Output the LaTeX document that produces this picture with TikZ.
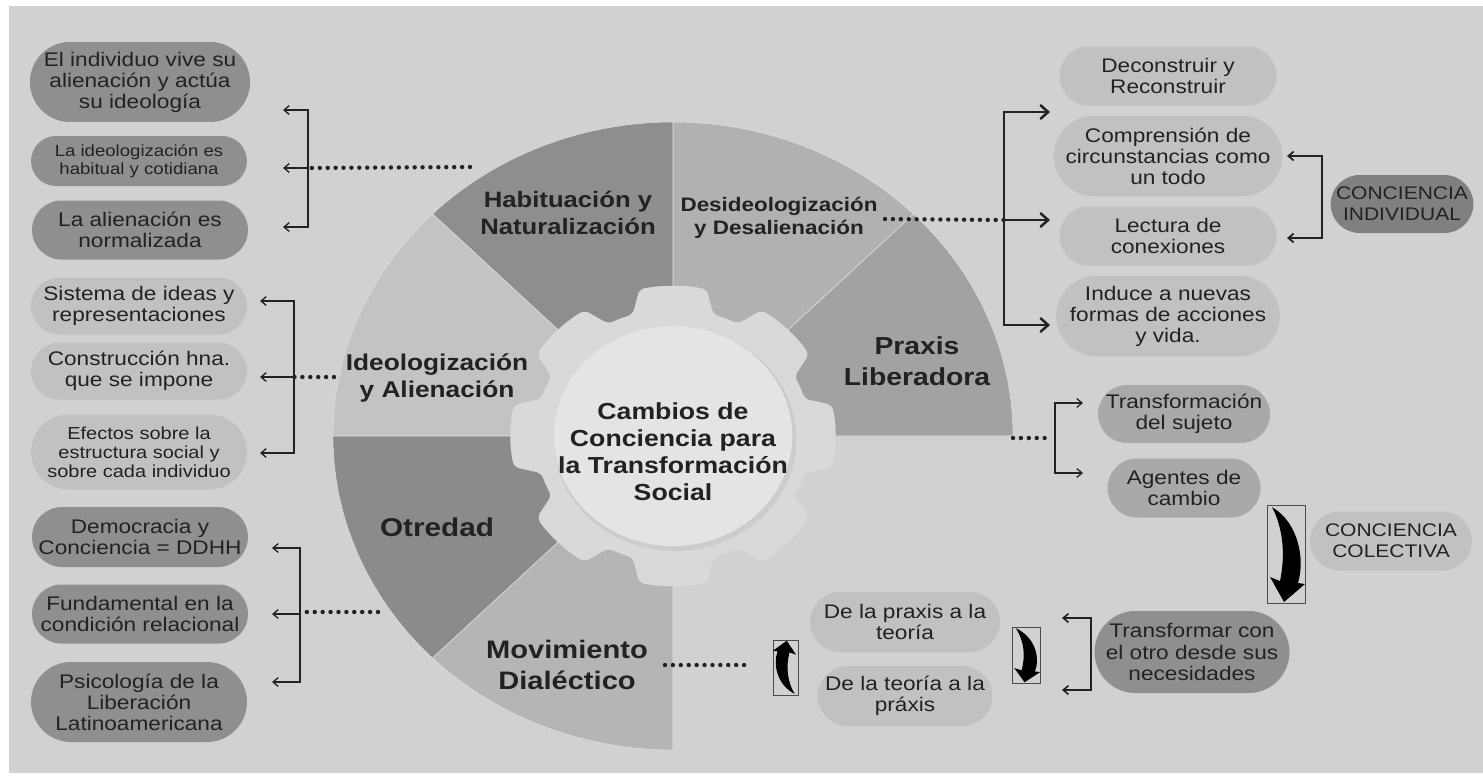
\documentclass[tikz,border=0pt]{standalone}
\usepackage{fontspec}
\setmainfont{Liberation Sans}[FakeStretch=1.15]
\usetikzlibrary{shapes.misc,arrows.meta}

\definecolor{panel}{HTML}{D1D1D1}
\definecolor{ink}{HTML}{222222}
\definecolor{boxdark}{HTML}{8F8F8F}
\definecolor{boxdeep}{HTML}{808080}
\definecolor{boxmid}{HTML}{A9A9A9}
\definecolor{boxlight}{HTML}{C1C1C1}
\definecolor{segHab}{HTML}{8E8E8E}
\definecolor{segDes}{HTML}{B1B1B1}
\definecolor{segPra}{HTML}{A2A2A2}
\definecolor{segIde}{HTML}{C3C3C3}
\definecolor{segOtr}{HTML}{8B8B8B}
\definecolor{segMov}{HTML}{B5B5B5}
\definecolor{gearfill}{HTML}{D9D9D9}
\definecolor{discfill}{HTML}{E4E4E4}

\tikzset{
  pill/.style={rounded rectangle, inner sep=0pt, align=center, text=ink,
    font=\fontsize{11.2}{12}\selectfont},
  darkpill/.style={pill, fill=boxdark},
  midpill/.style={pill, fill=boxmid},
  lightpill/.style={pill, fill=boxlight},
  seglabel/.style={align=center, text=ink, font=\bfseries\fontsize{13}{15.3}\selectfont},
  dotline/.style={ink, line width=2.5pt, dash pattern=on 0pt off 4.5pt, line cap=round},
  brk/.style={ink, line width=0.75pt, {Straight Barb[length=3pt,width=5pt]}-{Straight Barb[length=3pt,width=5pt]}},
  brktip/.style={ink, line width=0.75pt, -{Straight Barb[length=3pt,width=5pt]}},
  swoosh/.pic={
    \draw[gray!60!black, line width=0.3pt] (0,0) rectangle (38,98);
    \fill[black] (5,2) .. controls (32,18) and (38,55) .. (31,78) -- (38,79)
      -- (17,97) -- (3,72) -- (13,76) .. controls (18,52) and (17,25) .. (5,2) -- cycle;
  }
}

\begin{document}
\begin{tikzpicture}[x=0.02cm, y=-0.02cm]
\useasboundingbox (0,0) rectangle (1483,775);
\fill[white] (0,0) rectangle (1483,775);
\fill[panel] (9,6) rectangle (1483,773);

% wheel
\begin{scope}[shift={(673,436)}, yscale=-1, xscale=1.083]
  \foreach \s/\c in {0/segPra, 45/segDes, 90/segHab, 135/segIde, 180/segOtr, 225/segMov}
    \fill[\c, draw=panel!70!white, line width=0.3pt] (\s:100) -- (\s:314) arc[start angle=\s, end angle=\s+45, radius=314]
      -- (\s+45:100) arc[start angle=\s+45, end angle=\s, radius=100] -- cycle;
  \fill[gearfill, rounded corners=3pt] (-28:127)
    \foreach \a in {0,45,...,315} {
      arc[start angle=\a-28, end angle=\a-17, radius=127] -- (\a-12:150)
      arc[start angle=\a-12, end angle=\a+12, radius=150] -- (\a+17:127)
    } -- cycle;
  \fill[gray!40] (2,-3) circle (112);
  \fill[discfill] (0,0) circle (110);
\end{scope}

% wheel labels
\node[seglabel, font=\bfseries\fontsize{12.7}{15}\selectfont] (lHab) at (568,213) {Habituación y\\Naturalización};
\node[seglabel, font=\bfseries\fontsize{11.1}{13}\selectfont] (lDes) at (779,218) {Desideologización\\y Desalienación};
\node[seglabel, font=\bfseries\fontsize{14}{17.6}\selectfont] (lPra) at (917,361) {Praxis\\Liberadora};
\node[seglabel] (lIde) at (437,378) {Ideologización\\y Alienación};
\node[seglabel, font=\bfseries\fontsize{14.7}{17.6}\selectfont] (lOtr) at (437,527) {Otredad};
\node[seglabel, font=\bfseries\fontsize{14.4}{17.6}\selectfont] (lMov) at (567,665) {Movimiento\\Dialéctico};
\node[seglabel, font=\bfseries\fontsize{13.2}{15.3}\selectfont] (lCen) at (673,452) {Cambios de\\Conciencia para\\la Transformación\\Social};

% left column
\node[darkpill, minimum width=4.32cm, minimum height=1.6cm] (vive) at (140,82) {El individuo vive su\\alienación y actúa\\su ideología};
\node[darkpill, minimum width=4.32cm, minimum height=1cm, font=\fontsize{9.2}{10.2}\selectfont] (habitual) at (139,161) {La ideologización es\\habitual y cotidiana};
\node[darkpill, minimum width=4.32cm, minimum height=1.18cm] (normal) at (140,230) {La alienación es\\normalizada};
\node[lightpill, minimum width=4.32cm, minimum height=1.14cm] (sistema) at (139,306) {Sistema de ideas y\\representaciones};
\node[lightpill, minimum width=4.32cm, minimum height=1.14cm] (constr) at (139,371) {Construcción hna.\\que se impone};
\node[lightpill, minimum width=4.32cm, minimum height=1.5cm, font=\fontsize{9.9}{10.8}\selectfont] (efectos) at (139,452) {Efectos sobre la\\estructura social y\\sobre cada individuo};
\node[darkpill, minimum width=4.32cm, minimum height=1.2cm] (ddhh) at (140,537) {Democracia y\\Conciencia = DDHH};
\node[darkpill, minimum width=4.32cm, minimum height=1.18cm] (relac) at (140,614) {Fundamental en la\\condición relacional};
\node[darkpill, minimum width=4.32cm, minimum height=1.6cm] (psico) at (139,702) {Psicología de la\\Liberación\\Latinoamericana};

% left brackets
\coordinate (kHab) at (308,168);
\coordinate (kIde) at (294,377);
\coordinate (kOtr) at (300,614);
\draw[brk] (283,110) -- (308,110) -- (308,227) -- (283,227);
\draw[brktip] (kHab) -- ++(-25,0);
\draw[dotline] (470,167) -- (kHab);
\draw[brk] (260,301) -- (294,301) -- (294,453) -- (260,453);
\draw[brktip] (kIde) -- ++(-34,0);
\draw[dotline] (334,377) -- (kIde);
\draw[brk] (272,548) -- (300,548) -- (300,682) -- (272,682);
\draw[brktip] (kOtr) -- ++(-28,0);
\draw[dotline] (378,612) -- (300,612);

% right column
\node[lightpill, minimum width=4.34cm, minimum height=1.18cm] (decon) at (1168,76) {Deconstruir y\\Reconstruir};
\node[lightpill, minimum width=4.34cm, minimum height=1.6cm] (compr) at (1168,156) {Comprensión de\\circunstancias como\\un todo};
\node[lightpill, minimum width=4.34cm, minimum height=1.18cm] (lect) at (1168,236) {Lectura de\\conexiones};
\node[lightpill, minimum width=4.34cm, minimum height=1.6cm] (induce) at (1168,316) {Induce a nuevas\\formas de acciones\\y vida.};
\node[pill, fill=boxdeep, minimum width=2.84cm, minimum height=1.16cm, font=\fontsize{10.4}{11.8}\selectfont] (cInd) at (1402,204) {CONCIENCIA\\INDIVIDUAL};
\node[midpill, minimum width=3.44cm, minimum height=1.16cm] (sujeto) at (1184,414) {Transformación\\del sujeto};
\node[midpill, minimum width=3.06cm, minimum height=1.18cm] (agentes) at (1184,488) {Agentes de\\cambio};
\node[lightpill, minimum width=3.24cm, minimum height=1.18cm, font=\fontsize{10.4}{11.8}\selectfont] (cCol) at (1391,541) {CONCIENCIA\\COLECTIVA};
\node[darkpill, minimum width=3.74cm, minimum height=1.64cm] (otro) at (1192,652) {Transformar con\\el otro desde sus\\necesidades};
\node[lightpill, minimum width=3.8cm, minimum height=1.2cm] (prateo) at (905,622) {De la praxis a la\\teoría};
\node[lightpill, minimum width=3.4cm, minimum height=1.2cm] (teopra) at (905,696) {De la teoría a la\\práxis};

% right brackets
\coordinate (kDes) at (1004,220);
\coordinate (kPra) at (1055,438);
\draw[brk, line width=1.4pt, {Straight Barb[length=4.5pt,width=8pt]}-{Straight Barb[length=4.5pt,width=8pt]}] (1050,112) -- (1004,112) -- (1004,325) -- (1050,325);
\draw[brktip, line width=1.4pt, -{Straight Barb[length=4.5pt,width=8pt]}] (kDes) -- ++(46,0);
\draw[dotline] (885,219) -- (kDes);
\draw[brk, line width=1pt] (1287,156) -- (1322,156) -- (1322,238) -- (1287,238);
\draw[brk, line width=0.7pt] (1083,403) -- (1055,403) -- (1055,473) -- (1083,473);
\draw[dotline] (1013,438) -- (1045,438);
\draw[brk, line width=0.9pt] (1062,618) -- (1091,618) -- (1091,690) -- (1062,690);
\draw[dotline] (665,665) -- (750,665);

% curved arrows
\pic at (1267,505) {swoosh};
\pic[xscale=0.74, yscale=0.57] at (1012,627) {swoosh};
\pic[rotate=180, xscale=0.66, yscale=0.56] at (798,695) {swoosh};
\end{tikzpicture}
\end{document}
